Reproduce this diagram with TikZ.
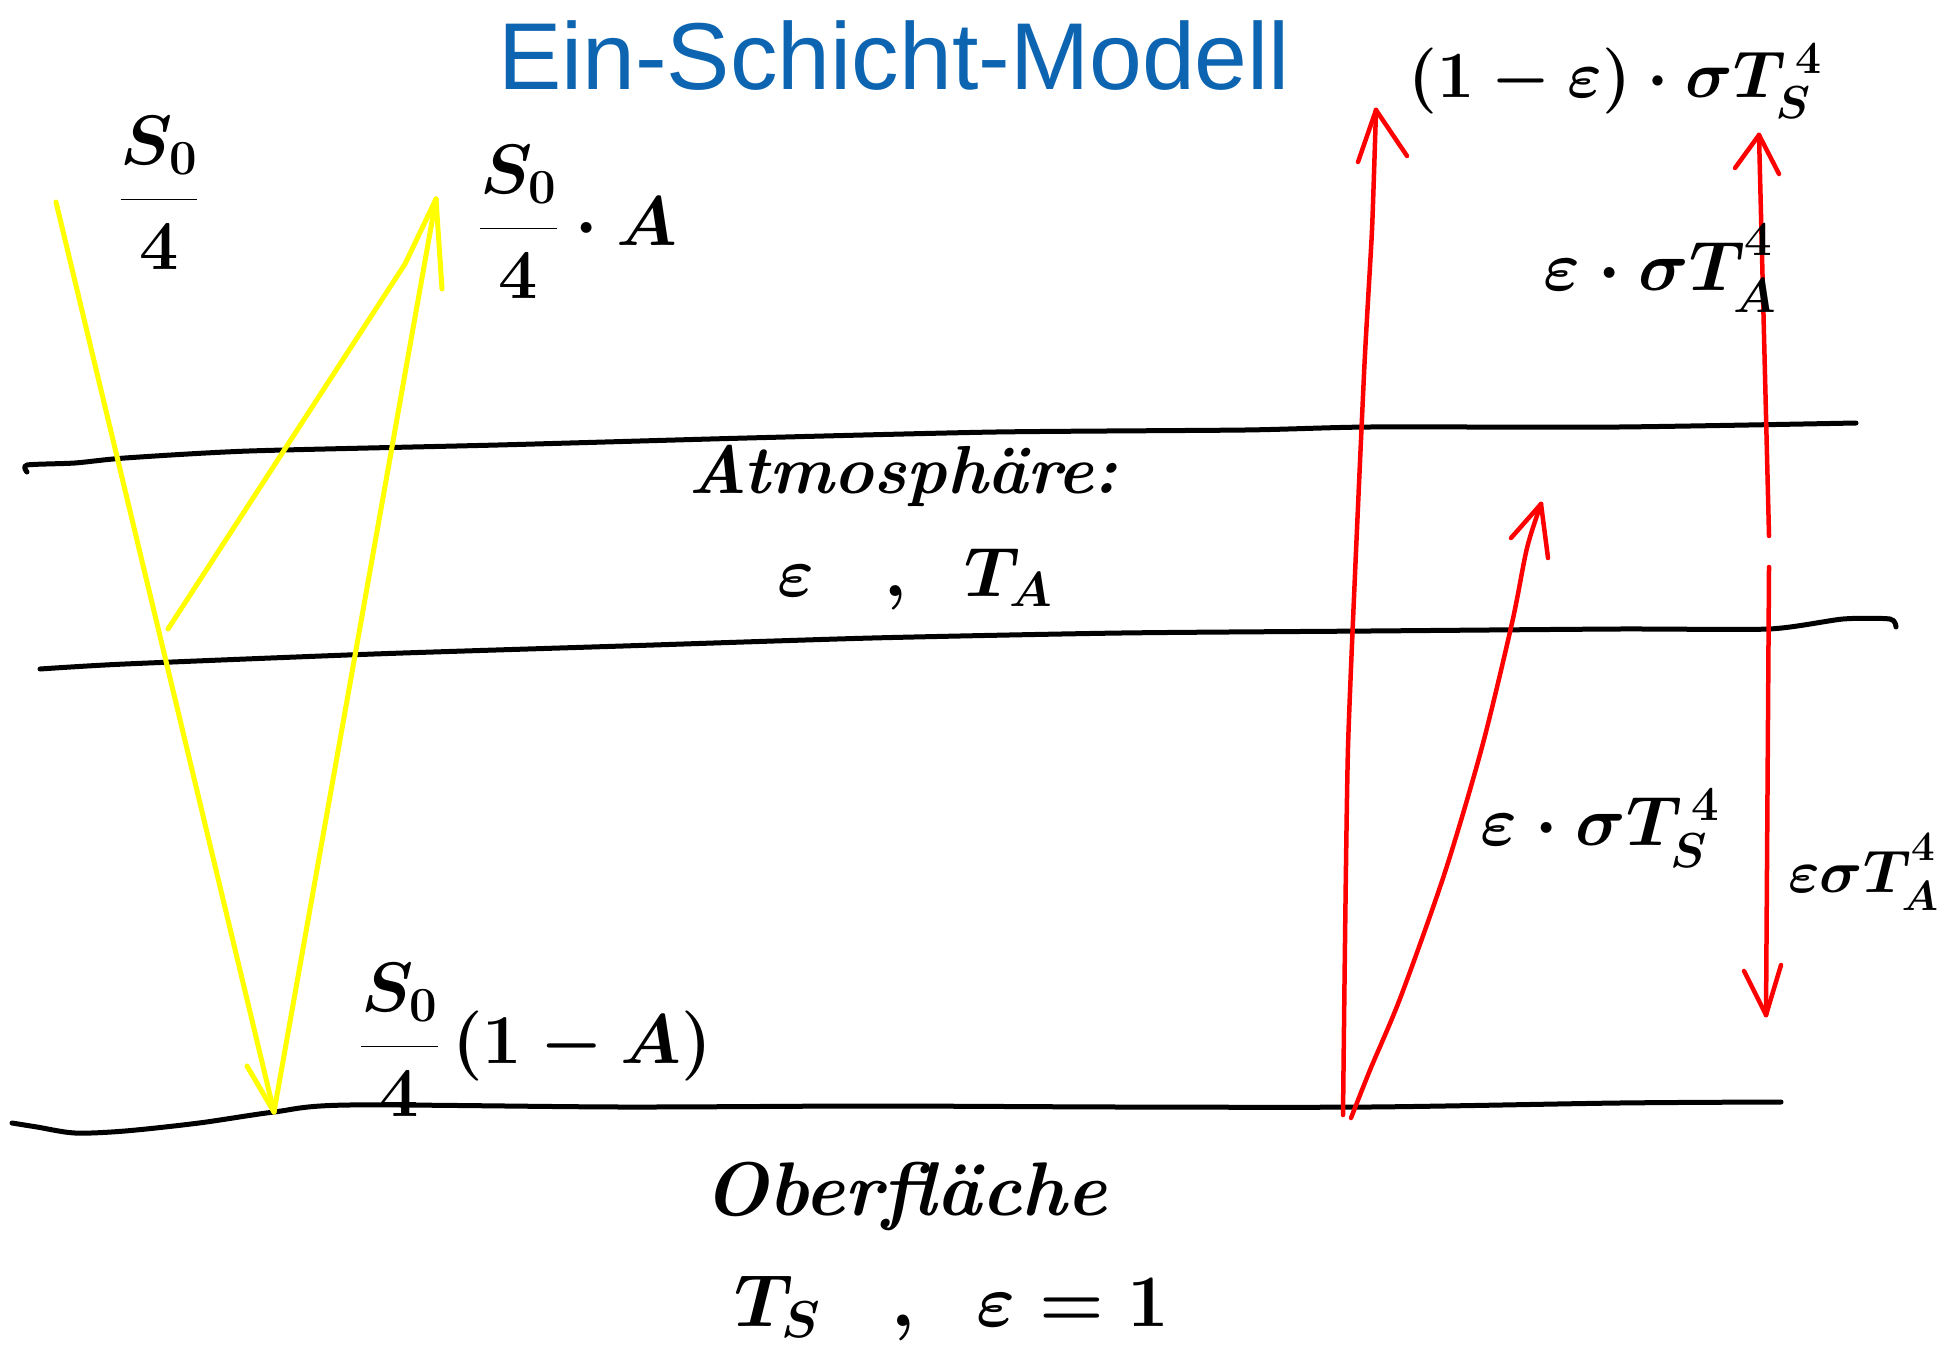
\RequirePackage{fix-cm}
\documentclass[tikz,border=0pt]{standalone}
\usepackage{fontspec}
\newfontfamily\titlefont{Liberation Sans}
\definecolor{titleblue}{RGB}{13,101,178}
\definecolor{sunyellow}{RGB}{255,255,0}
\definecolor{heatred}{RGB}{255,0,0}
\newcommand{\hiquad}{^{\raisebox{10pt}{$\scriptstyle 4$}}}
\begin{document}
\begin{tikzpicture}[x=1pt,y=-1pt,
  ground/.style={line width=5pt, black, line cap=round, line join=round},
  sun/.style={line width=5pt, sunyellow, line cap=round, line join=round},
  heat/.style={line width=4.5pt, heatred, line cap=round, line join=round},
  lbl/.style={inner sep=0pt, font=\fontsize{70}{84}\selectfont\boldmath\bfseries},
  ttl/.style={inner sep=0pt, text=titleblue, font=\titlefont\fontsize{95}{110}\selectfont}]
\useasboundingbox[fill=white] (0,0) rectangle (1953,1351);

% title
\node[ttl] (title) at (894,56) {Ein-Schicht-Modell};

% layer lines
\draw[ground] plot[smooth, tension=0.4] coordinates {(27,472) (27,465) (75,463) (125,458) (249,451) (498,445) (747,438) (996,432) (1245,430) (1370,427) (1619,427) (1856,423)};
\draw[ground] plot[smooth, tension=0.4] coordinates {(40,669) (125,664) (374,654) (623,646) (872,638) (1121,633) (1370,631) (1619,629) (1769,629) (1843,619) (1890,619) (1896,627)};
\draw[ground] plot[smooth, tension=0.5] coordinates {(12,1123) (37,1127) (75,1133) (125,1131) (199,1123) (274,1112) (349,1105) (623,1107) (872,1106) (1121,1107) (1370,1107) (1619,1103) (1781,1102)};

% yellow (solar) paths
\coordinate (y1s) at (56,202);
\coordinate (y1e) at (274,1112);
\coordinate (y2e) at (436,199);
\coordinate (y3s) at (168,629);
\coordinate (y3e) at (405,264);
\draw[sun] (y1s) -- (y1e);
\draw[sun] (y1e) -- (247,1066);
\draw[sun] (y1e) -- (y2e);
\draw[sun] (y2e) -- (442,289);
\draw[sun] (y3s) -- (y3e) -- (y2e);

% red (thermal) paths
\coordinate (r1s) at (1343,1115);
\coordinate (r1e) at (1376,110);
\draw[heat] plot[smooth, tension=0.3] coordinates {(r1s) (1348,747) (1364,374) (1372,230) (r1e)};
\draw[heat] (r1e) -- (1358,162);
\draw[heat] (r1e) -- (1407,156);

\coordinate (r2s) at (1351,1118);
\coordinate (r2e) at (1541,504);
\draw[heat] plot[smooth, tension=0.5] coordinates {(r2s) (1370,1070) (1401,996) (1445,872) (1482,747) (1512,623) (1527,548) (r2e)};
\draw[heat] (r2e) -- (1511,538);
\draw[heat] (r2e) -- (1548,558);

\coordinate (r3s) at (1769,536);
\coordinate (r3e) at (1759,135);
\draw[heat] (r3s) -- (r3e);
\draw[heat] (r3e) -- (1735,168);
\draw[heat] (r3e) -- (1779,174);

\coordinate (r4s) at (1769,567);
\coordinate (r4e) at (1766,1015);
\draw[heat] (r4s) -- (r4e);
\draw[heat] (r4e) -- (1744,971);
\draw[heat] (r4e) -- (1781,965);

% labels
\node[lbl] (so4) at (159,193) {$\displaystyle\frac{S_0}{4}$};
\node[lbl] (so4A) at (578,222) {$\displaystyle\frac{S_0}{4}\cdot A$};
\node[lbl, font=\fontsize{66}{80}\selectfont\boldmath] (emitS) at (1615,81) {$(1-\varepsilon)\cdot\sigma T_S^{\,4}$};
\node[lbl] (emitAup) at (1660,268) {$\varepsilon\cdot\sigma T_A\hiquad$};
\node[lbl, font=\fontsize{68}{80}\selectfont\bfseries\itshape] (atm) at (903,476) {Atmosphäre:};
\node[lbl] (atmpar) at (915,579) {$\varepsilon\quad,\;\;T_A$};
\node[lbl] (absS) at (1600,828) {$\varepsilon\cdot\sigma T_S^{\,4}$};
\node[lbl, anchor=west, font=\fontsize{60}{72}\selectfont\boldmath] (emitAdown) at (1788,872) {$\varepsilon\sigma T_A\hiquad$};
\node[lbl] (sfc) at (536,1040) {$\displaystyle\frac{S_0}{4}\,(1-A)$};
\node[lbl, font=\fontsize{76}{90}\selectfont\bfseries\itshape] (ober) at (905,1196) {Oberfläche};
\node[lbl, font=\fontsize{74}{88}\selectfont\boldmath] (surfpar) at (952,1308) {$T_S\;\;\;,\;\;\varepsilon=1$};
\end{tikzpicture}
\end{document}
